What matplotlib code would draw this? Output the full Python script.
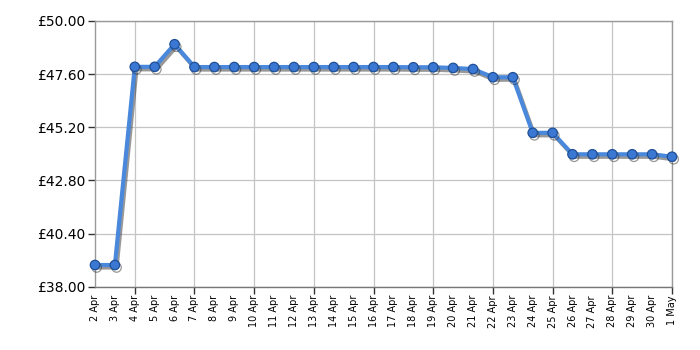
import matplotlib
matplotlib.use("Agg")
import matplotlib.pyplot as plt
import matplotlib.patheffects as pe
from matplotlib.ticker import FixedLocator, FixedFormatter

dates = ["2 Apr", "3 Apr", "4 Apr", "5 Apr", "6 Apr", "7 Apr", "8 Apr", "9 Apr",
         "10 Apr", "11 Apr", "12 Apr", "13 Apr", "14 Apr", "15 Apr", "16 Apr",
         "17 Apr", "18 Apr", "19 Apr", "20 Apr", "21 Apr", "22 Apr", "23 Apr",
         "24 Apr", "25 Apr", "26 Apr", "27 Apr", "28 Apr", "29 Apr", "30 Apr", "1 May"]
prices = [38.98, 38.98, 47.93, 47.93, 48.95, 47.92, 47.92, 47.92,
          47.92, 47.92, 47.92, 47.92, 47.92, 47.92, 47.92,
          47.92, 47.91, 47.91, 47.88, 47.83, 47.46, 47.46,
          44.95, 44.95, 43.98, 43.98, 43.98, 43.98, 43.98, 43.87]
y_ticks = [38.00, 40.40, 42.80, 45.20, 47.60, 50.00]
grid_days = ["4 Apr", "7 Apr", "10 Apr", "13 Apr", "16 Apr", "19 Apr",
             "22 Apr", "25 Apr", "28 Apr", "1 May"]

fig = plt.figure(figsize=(7, 3.5), dpi=100)
ax = fig.add_axes([95/700, 1 - 286.7/350, (672-95)/700, (286.7-21)/350])

x = list(range(len(dates)))
ax.plot(x, prices, color="#4a88dc", lw=3, marker="o", ms=6.8,
        markerfacecolor="#3b78d4", markeredgecolor="#1f4f96", markeredgewidth=0.9,
        path_effects=[pe.SimpleLineShadow(offset=(1.2, -1.8), shadow_color="#333333", alpha=0.5),
                      pe.Normal()], zorder=3, clip_on=False)

ax.set_xlim(0, len(dates) - 1)
ax.set_ylim(38, 50)

ax.xaxis.remove_overlapping_locs = False
ax.xaxis.set_major_locator(FixedLocator(x))
ax.xaxis.set_major_formatter(FixedFormatter(dates))
ax.xaxis.set_minor_locator(FixedLocator([dates.index(d) for d in grid_days]))
ax.tick_params(axis="x", which="major", length=0, labelsize=7, rotation=90, pad=6)
ax.tick_params(axis="x", which="minor", length=5, color="#333333", width=1)
ax.grid(True, axis="x", which="minor", color="#c4c4c4", lw=0.9)

ax.set_yticks(y_ticks)
ax.set_yticklabels([f"£{v:.2f}" for v in y_ticks])
ax.tick_params(axis="y", length=5, labelsize=10, color="#333333", width=1, pad=2)
ax.grid(True, axis="y", color="#c4c4c4", lw=0.9)

for s in ax.spines.values():
    s.set_color("#999999")
    s.set_linewidth(1)
ax.spines["bottom"].set_color("#777777")
ax.set_axisbelow(True)

fig.savefig("out.png", dpi=100)
